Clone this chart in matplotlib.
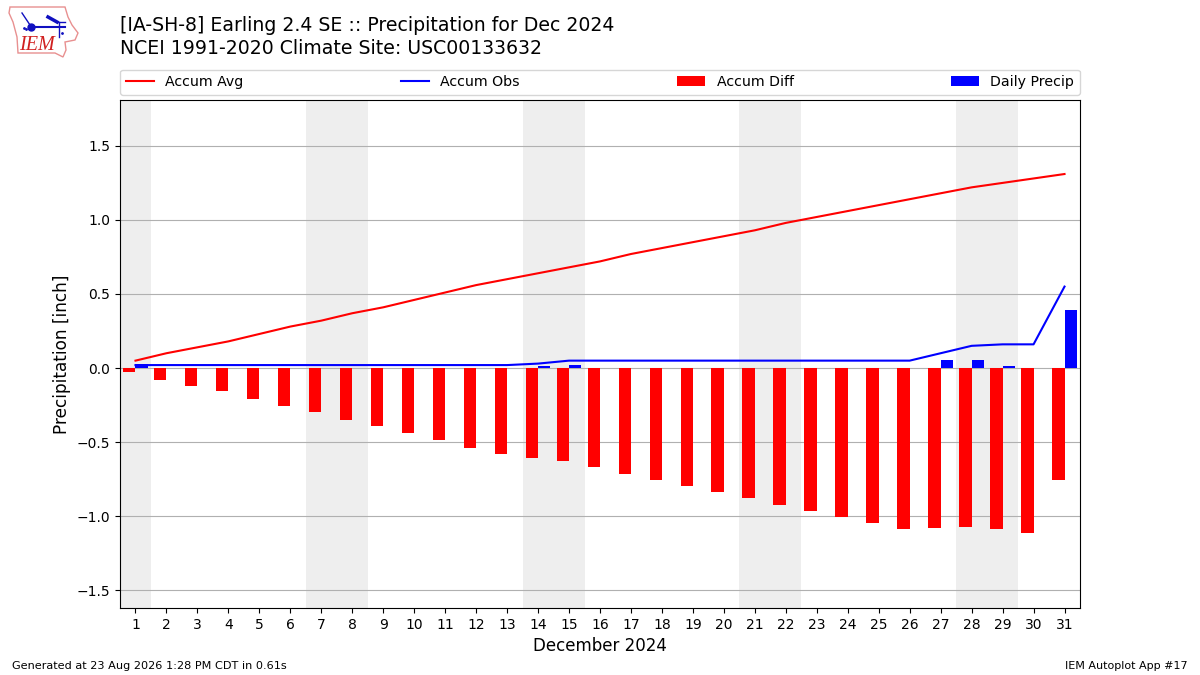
import matplotlib
matplotlib.use('Agg')
import matplotlib.pyplot as plt
from matplotlib.patches import Polygon

days = list(range(1, 32))
accum_avg = [0.05, 0.10, 0.14, 0.18, 0.23, 0.28, 0.32, 0.37, 0.41, 0.46, 0.51,
             0.56, 0.60, 0.64, 0.68, 0.72, 0.77, 0.81, 0.85, 0.89, 0.93, 0.98,
             1.02, 1.06, 1.10, 1.14, 1.18, 1.22, 1.25, 1.28, 1.31]
accum_obs = [0.02, 0.02, 0.02, 0.02, 0.02, 0.02, 0.02, 0.02, 0.02, 0.02, 0.02,
             0.02, 0.02, 0.03, 0.05, 0.05, 0.05, 0.05, 0.05, 0.05, 0.05, 0.05,
             0.05, 0.05, 0.05, 0.05, 0.10, 0.15, 0.16, 0.16, 0.55]
accum_diff = [-0.025, -0.08, -0.12, -0.155, -0.21, -0.255, -0.295, -0.35, -0.39,
              -0.44, -0.485, -0.54, -0.58, -0.605, -0.625, -0.665, -0.715, -0.755,
              -0.795, -0.835, -0.875, -0.925, -0.965, -1.005, -1.045, -1.085, -1.08,
              -1.07, -1.085, -1.115, -0.755]
daily_precip = [0.025, 0, 0, 0, 0, 0, 0, 0, 0, 0, 0, 0, 0, 0.015, 0.02, 0, 0, 0,
                0, 0, 0, 0, 0, 0, 0, 0, 0.055, 0.055, 0.015, 0, 0.39]
weekends = [(0.5, 1.5), (6.5, 8.5), (13.5, 15.5), (20.5, 22.5), (27.5, 29.5)]

fig = plt.figure(figsize=(12, 6.75), dpi=100)
ax = fig.add_axes([0.1, 0.0993, 0.8, 0.7526])

for start, end in weekends:
    ax.axvspan(start, end, color='#eeeeee', lw=0, zorder=0)

ax.grid(True, axis='y', color='#b0b0b0', lw=0.8, zorder=1)
ax.set_axisbelow(True)

ax.plot(days, accum_avg, color='r', lw=1.5, label='Accum Avg', zorder=3)
ax.plot(days, accum_obs, color='b', lw=1.5, label='Accum Obs', zorder=3)
ax.bar(days, accum_diff, width=-0.4, align='edge', color='r', label='Accum Diff', zorder=2)
ax.bar(days, daily_precip, width=0.4, align='edge', color='b', label='Daily Precip', zorder=2)

ax.set_xlim(0.5, 31.5)
ax.set_ylim(-1.62, 1.81)
ax.set_xticks(days)
ax.set_yticks([-1.5, -1.0, -0.5, 0.0, 0.5, 1.0, 1.5])
ax.set_xlabel('December 2024', fontsize=12, labelpad=4)
ax.set_ylabel('Precipitation [inch]', fontsize=12.2)
ax.tick_params(labelsize=10)

ax.legend(loc='lower left', bbox_to_anchor=(0, 1.01, 1, 0.05), ncol=4, mode='expand',
          borderaxespad=0, fontsize=10.2)

fig.text(0.1, 0.9625, '[IA-SH-8] Earling 2.4 SE :: Precipitation for Dec 2024',
         fontsize=13.55, va='center')
fig.text(0.1, 0.9275, 'NCEI 1991-2020 Climate Site: USC00133632', fontsize=13.55, va='center')
fig.text(0.01, 0.0135, 'Generated at 23 Aug 2026 1:28 PM CDT in 0.61s', fontsize=8.1, va='center')
fig.text(0.99, 0.0135, 'IEM Autoplot App #17', fontsize=8, va='center', ha='right')

# rough version of the IEM logo, in pixels
logo = fig.add_axes([0, 0.9, 0.1, 0.1])
logo.set_xlim(0, 120)
logo.set_ylim(67.5, 0)
logo.axis('off')
logo.add_patch(Polygon([(10, 7), (65, 7), (68, 17), (72, 25), (78, 33), (75, 40), (65, 42),
                        (66, 50), (63, 57), (55, 53), (18, 53), (17, 37), (13, 22), (9, 13)],
                       closed=True, fill=False, ec='#e89090', lw=1))
logo_blue = '#1010c0'
logo.plot([32, 65], [27, 27], color=logo_blue, lw=1.5)
logo.plot([31], [27], 'o', color=logo_blue, ms=5)
logo.plot([22, 30], [13, 25], color=logo_blue, lw=1)
logo.plot([48, 57], [17, 22], color=logo_blue, lw=2.5)
logo.plot([57, 65], [22, 22], color=logo_blue, lw=1)
logo.plot([59, 59], [22, 37], color=logo_blue, lw=1)
logo.plot([62, 24, 26], [33, 28, 29], '.', color=logo_blue, ms=2)
logo.text(37, 46, 'IEM', color='#d02020', family='Liberation Serif', style='italic',
          fontsize=14.5, ha='center', va='center')

fig.savefig('out.png', dpi=100)
